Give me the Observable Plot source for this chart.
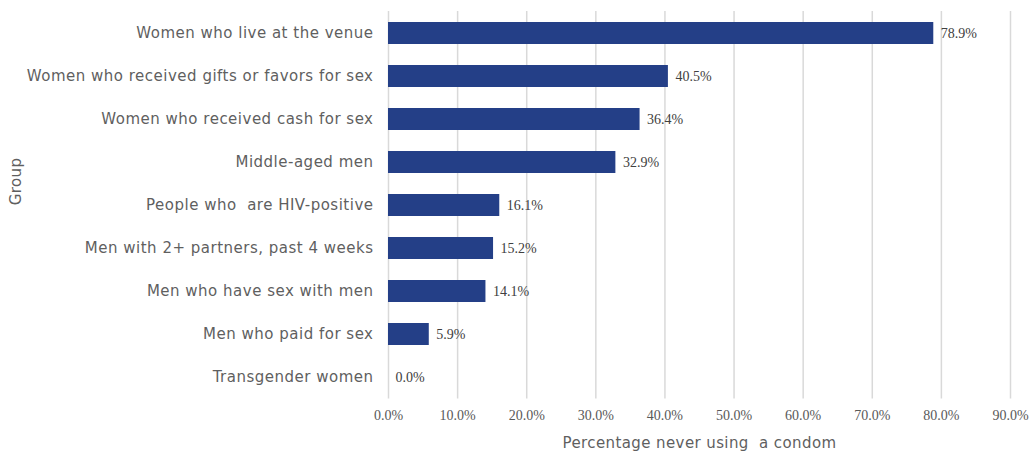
<!DOCTYPE html>
<html>
<head>
<meta charset="utf-8">
<script src="https://cdn.jsdelivr.net/npm/d3@7"></script>
<script src="https://cdn.jsdelivr.net/npm/@observablehq/plot@0.6"></script>
<style>
  html, body { margin: 0; padding: 0; background: #fff; }
  #chart svg { display: block; }
  #chart [aria-label="y-axis tick label"] { letter-spacing: 0.5px; }
  #chart .wide-label { letter-spacing: 0.4px; }
</style>
</head>
<body>
<div id="chart"></div>
<script>
const groups = [
  "Women who live at the venue",
  "Women who received gifts or favors for sex",
  "Women who received cash for sex",
  "Middle-aged men",
  "People who  are HIV-positive",
  "Men with 2+ partners, past 4 weeks",
  "Men who have sex with men",
  "Men who paid for sex",
  "Transgender women"
];
const values = [78.9, 40.5, 36.4, 32.9, 16.1, 15.2, 14.1, 5.9, 0.0];
const xTicks = [0, 10, 20, 30, 40, 50, 60, 70, 80, 90];
const xLabel = "Percentage never using  a condom";
const yLabel = "Group";

const data = groups.map((g, i) => ({group: g, value: values[i]}));
const fmt = v => v.toFixed(1) + "%";

const sans = "'DejaVu Sans', sans-serif";
const serif = "'Liberation Serif', 'DejaVu Serif', serif";

const chart = Plot.plot({
  width: 1035,
  height: 452,
  marginTop: 11,
  marginBottom: 53.5,
  marginLeft: 388,
  marginRight: 25,
  style: {background: "#fff", color: "#595959"},
  x: {domain: [0, 90], ticks: xTicks},
  y: {domain: groups, paddingInner: 0.49, paddingOuter: 0.245, label: null},
  marks: [
    Plot.gridX(xTicks, {stroke: "#d9d9d9", strokeOpacity: 1, strokeWidth: 1.5}),
    Plot.barX(data, {y: "group", x: "value", fill: "#243f87"}),
    Plot.text(data, {y: "group", x: "value", text: d => fmt(d.value), dx: 7, textAnchor: "start",
      fontFamily: serif, fontSize: 14, fill: "#404040"}),
    Plot.axisX(xTicks, {tickSize: 0, tickPadding: 11, tickFormat: fmt, label: null,
      fontFamily: serif, fontSize: 14, color: "#595959"}),
    Plot.axisY({tickSize: 0, tickPadding: 15, label: null, fontFamily: sans, fontSize: 15, color: "#5f5f5f"}),
    Plot.text([xLabel], {frameAnchor: "bottom", dy: 44.5, lineAnchor: "middle", className: "wide-label",
      fontFamily: sans, fontSize: 15, fill: "#5f5f5f"}),
    Plot.text([yLabel], {frameAnchor: "left", dx: -372, rotate: -90, lineAnchor: "middle", className: "wide-label",
      fontFamily: sans, fontSize: 15, fill: "#5f5f5f"})
  ]
});
document.getElementById("chart").appendChild(chart);
</script>
</body>
</html>
